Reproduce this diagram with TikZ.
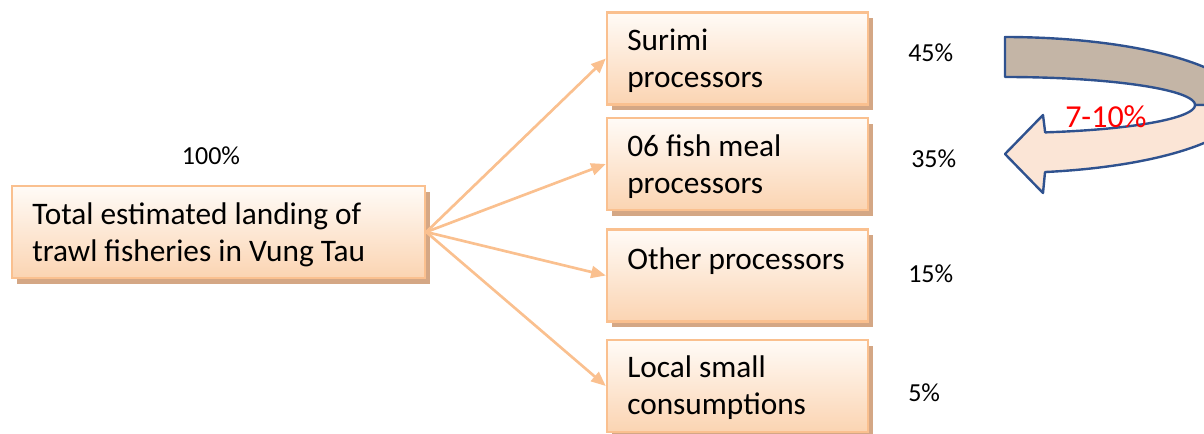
\documentclass[tikz,border=0pt]{standalone}
\usepackage{fontspec}
\setmainfont{Carlito}
\usetikzlibrary{arrows.meta,shadows,calc}
\definecolor{bxborder}{RGB}{250,192,143}
\definecolor{bxtop}{RGB}{255,251,247}
\definecolor{bxbot}{RGB}{251,212,178}
\definecolor{bxshadow}{RGB}{212,167,133}
\definecolor{bandbrown}{RGB}{196,181,166}
\definecolor{bandpeach}{RGB}{251,229,214}
\definecolor{bandline}{RGB}{47,82,143}
\begin{document}
\begin{tikzpicture}[x=0.75pt,y=-0.75pt,
  box/.style={rectangle, draw=bxborder, line width=1.8pt, top color=bxtop, bottom color=bxbot,
    minimum width=195.75pt, minimum height=69pt, inner sep=0pt,
    drop shadow={shadow xshift=4pt, shadow yshift=-4.5pt, fill=bxshadow, opacity=1}},
  boxtext/.style={anchor=base west, inner sep=0pt, font=\fontsize{23.5}{27.75}\selectfont},
  pct/.style={anchor=base west, inner sep=0pt, font=\fontsize{19.5}{23}\selectfont},
  arr/.style={draw=bxborder, line width=2pt, -{Triangle[length=11pt,width=9pt]}},
  band/.style={draw=bandline, line width=1.8pt, line join=round}]
\useasboundingbox (0,0) rectangle (1204,434);
\clip (0,0) rectangle (1204,434);

% boxes
\node[box, minimum width=309.75pt] (L) at (218.5,232) {};
\node[box] (S) at (737.5,58.5) {};
\node[box] (F) at (737.5,164) {};
\node[box] (O) at (737.5,275.5) {};
\node[box] (C) at (737.5,386) {};

% box texts
\node[boxtext] (Lt) at (32,225) {\parbox[t]{300pt}{\raggedright Total estimated landing of\\trawl fisheries in Vung Tau}};
\node[boxtext] (St) at (627,51) {\parbox[t]{180pt}{\raggedright Surimi\\processors}};
\node[boxtext] (Ft) at (627,157) {\parbox[t]{180pt}{\raggedright 06 fish meal\\processors}};
\node[boxtext] (Ot) at (627,270) {\parbox[t]{180pt}{\raggedright Other processors}};
\node[boxtext] (Ct) at (627,378) {\parbox[t]{180pt}{\raggedright Local small\\consumptions}};

% connectors
\draw[arr] (L.east) -- (S.west);
\draw[arr] (L.east) -- (F.west);
\draw[arr] (L.east) -- (O.west);
\draw[arr] (L.east) -- (C.west);

% percentages
\node[pct, anchor=base] (p100) at (211,165) {100\%};
\node[pct] (p45) at (908,62) {45\%};
\node[pct] (p35) at (911,168) {35\%};
\node[pct] (p15) at (908,283) {15\%};
\node[pct] (p5) at (908,402) {5\%};

% curved arrow
\draw[band, fill=bandbrown] (1005,37)
  -- plot[domain=270:360, samples=50] ({1005+240*cos(\x)},{105+68*sin(\x)})
  -- plot[domain=360:270, samples=50] ({1005+190*cos(\x)},{105+28*sin(\x)})
  -- cycle;
\draw[band, fill=bandpeach] ({1005+240*cos(80.4)},{105+68*sin(80.4)})
  -- plot[domain=80.4:0, samples=50] ({1005+240*cos(\x)},{105+68*sin(\x)})
  -- plot[domain=0:77.8, samples=50] ({1005+190*cos(\x)},{105+28*sin(\x)})
  -- (1043,115) -- (1005,154) -- (1043,193) -- cycle;

\node[anchor=base west, inner sep=0pt, text=red, font=\fontsize{24}{28}\selectfont] (r) at (1065,128) {7-10\%};
\end{tikzpicture}
\end{document}
